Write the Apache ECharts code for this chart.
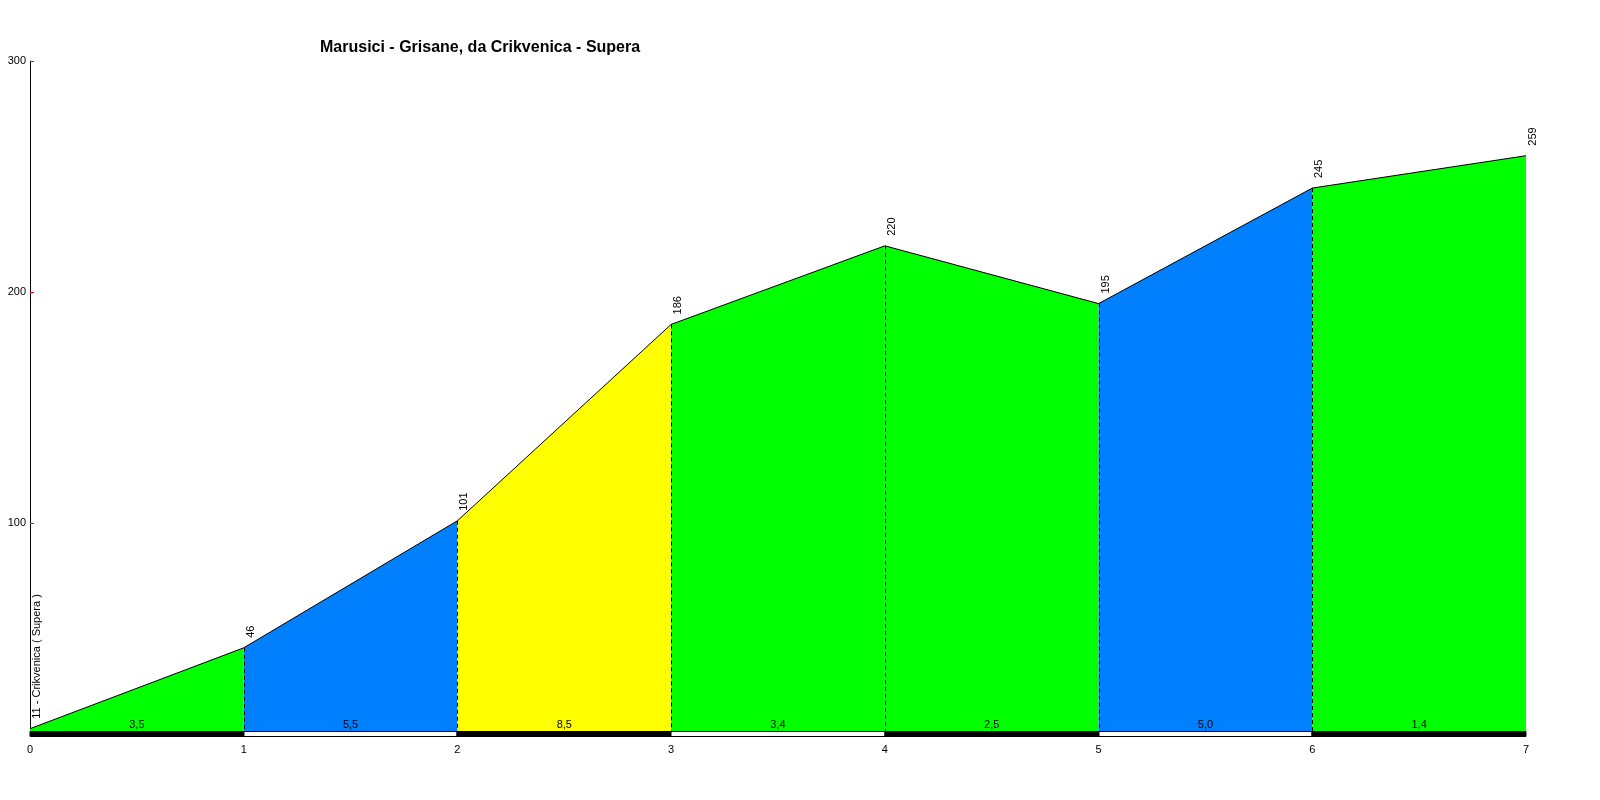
<!DOCTYPE html>
<html>
<head>
<meta charset="utf-8">
<script src="https://cdn.jsdelivr.net/npm/echarts@6/dist/echarts.min.js"></script>
<style>
html,body{margin:0;padding:0;background:#fff;}
#chart{width:1600px;height:800px;}
</style>
</head>
<body>
<div id="chart"></div>
<script>
// ---- data ----
const titleText = 'Marusici - Grisane, da Crikvenica - Supera';
const km = [0, 1, 2, 3, 4, 5, 6, 7];
const elevations = [11, 46, 101, 186, 220, 195, 245, 259];
const startLabel = '11 - Crikvenica ( Supera )';
const gradients = ['3,5', '5,5', '8,5', '3,4', '2,5', '5,0', '1,4'];
const segmentColors = ['#00FF00', '#0080FF', '#FFFF00', '#00FF00', '#00FF00', '#0080FF', '#00FF00'];
const yTickValues = [100, 200, 300];
const yMin = 10, yMax = 300;

const FONT = '"Liberation Sans", Arial, sans-serif';

const chart = echarts.init(document.getElementById('chart'), null, {renderer: 'canvas'});

const series = [];

// filled segments
for (let i = 0; i < km.length - 1; i++) {
  series.push({
    type: 'line',
    data: [[km[i], elevations[i]], [km[i + 1], elevations[i + 1]]],
    symbol: 'none',
    lineStyle: {color: '#000', width: 1},
    areaStyle: {color: segmentColors[i], opacity: 1, origin: 'start'},
    silent: true,
    animation: false,
    z: 2
  });
}

// dashed vertical separators at interior km points
series.push({
  type: 'custom',
  data: km.slice(1, -1).map((k, j) => [k, elevations[j + 1]]),
  renderItem: function (params, api) {
    const top = api.coord([api.value(0), api.value(1)]);
    const bot = api.coord([api.value(0), yMin]);
    const x = Math.round(top[0]) + 0.5;
    return {
      type: 'line',
      shape: {x1: x, y1: top[1], x2: x, y2: bot[1]},
      style: {stroke: '#000', lineWidth: 1, lineDash: [4, 3]}
    };
  },
  z: 3,
  animation: false,
  silent: true
});

// alternating bar with gradient labels
series.push({
  type: 'custom',
  data: gradients.map((g, i) => [km[i], km[i + 1], i]),
  renderItem: function (params, api) {
    const a = api.coord([api.value(0), yMin]);
    const b = api.coord([api.value(1), yMin]);
    const idx = api.value(2);
    const dark = idx % 2 === 0;
    const y0 = Math.round(a[1]);
    return {
      type: 'group',
      children: [
        {
          type: 'rect',
          shape: {x: Math.round(a[0]), y: y0 + 0.5, width: Math.round(b[0]) - Math.round(a[0]), height: 5},
          style: {fill: dark ? '#000' : '#fff', stroke: '#000', lineWidth: 1}
        },
        {
          type: 'text',
          x: (a[0] + b[0]) / 2,
          y: y0 - 1,
          style: {
            text: gradients[idx],
            font: '11px ' + FONT,
            fill: '#000',
            align: 'center',
            verticalAlign: 'bottom'
          }
        }
      ]
    };
  },
  z: 4,
  animation: false,
  silent: true
});

// rotated elevation labels
series.push({
  type: 'custom',
  data: km.map((k, i) => [k, elevations[i], i]),
  renderItem: function (params, api) {
    const p = api.coord([api.value(0), api.value(1)]);
    const i = api.value(2);
    const txt = i === 0 ? startLabel : String(elevations[i]);
    return {
      type: 'text',
      x: p[0] + 7,
      y: p[1] - 10,
      rotation: Math.PI / 2,
      style: {
        text: txt,
        font: '11px ' + FONT,
        fill: '#000',
        align: 'left',
        verticalAlign: 'middle'
      }
    };
  },
  z: 5,
  animation: false,
  silent: true
});

chart.setOption({
  backgroundColor: '#fff',
  animation: false,
  title: {
    text: titleText,
    left: 320,
    top: 40,
    padding: 0,
    textStyle: {fontFamily: FONT, fontSize: 16, fontWeight: 'bold', color: '#000'}
  },
  grid: {left: 30, right: 74, top: 61, bottom: 69, containLabel: false},
  xAxis: {
    type: 'value',
    min: 0,
    max: 7,
    interval: 1,
    axisLine: {show: false},
    axisTick: {show: false},
    splitLine: {show: false},
    axisLabel: {fontFamily: FONT, fontSize: 11, color: '#000', margin: 13}
  },
  yAxis: {
    type: 'value',
    min: yMin,
    max: yMax,
    axisLine: {show: true, lineStyle: {color: '#000', width: 1}},
    axisTick: {show: true, inside: true, length: 4, lineStyle: {color: '#ff0000'}, customValues: yTickValues},
    axisLabel: {fontFamily: FONT, fontSize: 11, color: '#000', margin: 4, customValues: yTickValues},
    splitLine: {show: false}
  },
  series: series
});
</script>
</body>
</html>
